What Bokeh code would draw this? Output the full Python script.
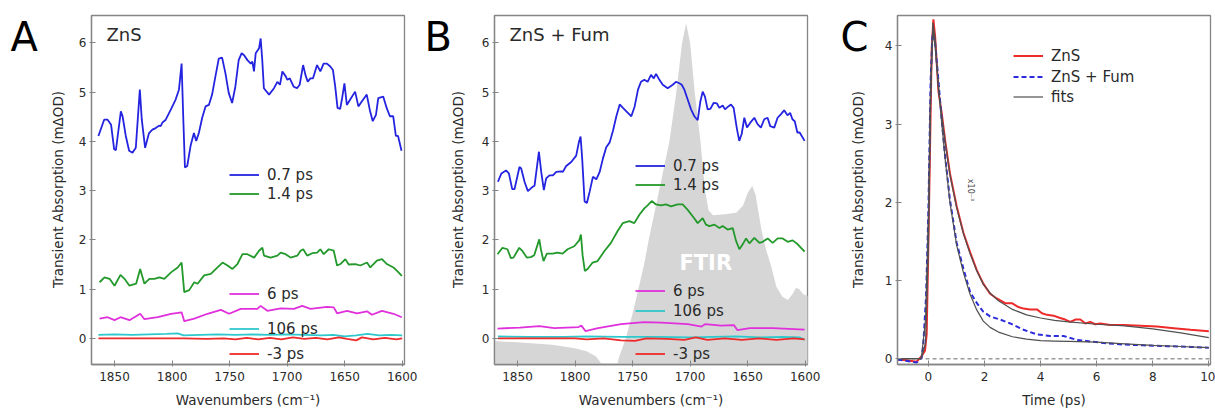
import math
from bokeh.plotting import figure
from bokeh.layouts import row
from bokeh.models import Legend, LegendItem, Label, Span, Range1d, FixedTicker
from bokeh.embed import file_html
from bokeh.resources import INLINE

FONT = "DejaVu Sans"
TXT = "#2a2a2a"
FRAME = "#858585"

BLUE = "#2424e0"
GREEN = "#22992a"
MAGENTA = "#e030dc"
CYAN = "#2ec8cc"
RED = "#ee2a2a"
FIT = "#505050"
FTIR_FILL = "#d6d6d6"

DELAY_LABELS = ["0.7 ps", "1.4 ps", "6 ps", "106 ps", "-3 ps"]
WN_TICKS = [1850, 1800, 1750, 1700, 1650, 1600]
TA_TICKS = [0, 1, 2, 3, 4, 5, 6]
TIME_TICKS = [0, 2, 4, 6, 8, 10]
KIN_TICKS = [0, 1, 2, 3, 4]
Y_TITLE = "Transient Absorption (mΔOD)"

# ---- Panel A: ZnS transient spectra, (wavenumber, mOD) ----
A_07PS = [(1864, 4.11), (1859, 4.44), (1856, 4.44), (1853, 4.34), (1850.3, 3.84), (1848.8, 3.82),
          (1844.5, 4.61), (1843, 4.51), (1840.2, 4.11), (1837.3, 3.81), (1834.4, 3.77), (1831.5, 3.87),
          (1828, 5.05), (1826.3, 4.44), (1823.4, 3.87), (1820, 4.17), (1817.1, 4.24), (1814.2, 4.27),
          (1811.3, 4.32), (1809.9, 4.31), (1808.4, 4.38), (1805.5, 4.44), (1801.2, 4.64), (1796.9, 4.85),
          (1794, 5.05), (1791.7, 5.58), (1790.2, 4.44), (1788.8, 3.47), (1786.8, 3.50), (1783.9, 3.91),
          (1781, 4.17), (1779, 4.01), (1776.7, 4.17), (1773.8, 4.48), (1770.9, 4.71), (1768, 4.74),
          (1765.2, 4.95), (1762.3, 5.32), (1759.4, 5.68), (1756.5, 5.70), (1753.6, 5.38), (1750.7, 4.98),
          (1747.8, 4.78), (1745, 5.11), (1742.1, 5.65), (1739.5, 5.79), (1737.4, 5.75), (1734.5, 5.65),
          (1731.6, 5.58), (1730.2, 5.62), (1728.8, 5.42), (1727.3, 5.79), (1724.4, 5.89), (1723, 6.09),
          (1721.6, 5.65), (1720.2, 5.08), (1715.7, 4.95), (1711.4, 5.08), (1708.5, 5.21), (1706.2, 5.15),
          (1704.1, 5.42), (1701.2, 5.32), (1699.8, 5.25), (1697.7, 5.28), (1694.3, 5.11), (1691.4, 5.08),
          (1689.1, 5.15), (1686.1, 5.55), (1684.1, 5.35), (1682.1, 5.21), (1679.8, 5.28), (1677.5, 5.28),
          (1674, 5.55), (1671.1, 5.42), (1668.3, 5.58), (1665.4, 5.58), (1662.5, 5.52), (1660.2, 5.45),
          (1658.2, 5.11), (1656.2, 4.68), (1653.9, 4.66), (1652.4, 4.85), (1650.2, 5.18), (1648.1, 4.74),
          (1645.2, 4.85), (1640.9, 5.01), (1638.1, 4.71), (1635.1, 4.81), (1630.8, 4.95), (1627.9, 4.61),
          (1625.6, 4.41), (1622.8, 4.54), (1620.8, 4.88), (1616.5, 4.91), (1613.5, 4.68), (1610.7, 4.51),
          (1607.8, 4.51), (1605.5, 4.11), (1603.6, 4.11), (1600.6, 3.81)]

A_14PS = [(1863, 1.14), (1858.7, 1.24), (1854.3, 1.21), (1850, 1.07), (1844.8, 1.29), (1841.3, 1.21),
          (1837, 1.07), (1831.2, 1.11), (1827.7, 1.41), (1824, 1.11), (1819.7, 1.21), (1815.4, 1.21),
          (1811, 1.24), (1806.7, 1.21), (1800.9, 1.34), (1795.1, 1.44), (1791.7, 1.54), (1789.4, 0.94),
          (1785.1, 0.98), (1780.7, 1.14), (1777.8, 1.11), (1772.1, 1.28), (1766.3, 1.31), (1760.5, 1.44),
          (1756.1, 1.54), (1751.8, 1.48), (1747.5, 1.41), (1743.2, 1.51), (1738.8, 1.71), (1734.5, 1.71),
          (1728.7, 1.64), (1724.4, 1.78), (1721.5, 1.84), (1720.1, 1.68), (1714.3, 1.64), (1708.5, 1.68),
          (1705.6, 1.74), (1701.3, 1.71), (1697, 1.64), (1691.2, 1.68), (1688.3, 1.78), (1686, 1.81),
          (1682.6, 1.68), (1678.2, 1.73), (1673.9, 1.74), (1671.1, 1.81), (1668.2, 1.71), (1663.8, 1.81),
          (1659.5, 1.78), (1656.6, 1.48), (1653.7, 1.51), (1649.4, 1.61), (1646.5, 1.50), (1640.7, 1.51),
          (1636.4, 1.48), (1630.6, 1.54), (1627.7, 1.44), (1622, 1.58), (1617.6, 1.61), (1613.3, 1.51),
          (1607.6, 1.44), (1603.2, 1.34), (1600.3, 1.27)]

A_6PS = [(1863, 0.40), (1856, 0.43), (1850, 0.37), (1844.8, 0.43), (1837, 0.37), (1827.7, 0.50),
         (1824, 0.39), (1812.4, 0.43), (1800.9, 0.50), (1791.7, 0.53), (1789.4, 0.35), (1780.7, 0.40),
         (1769.2, 0.50), (1757.6, 0.58), (1750.4, 0.50), (1740.3, 0.60), (1725.9, 0.60), (1723, 0.66),
         (1717.2, 0.56), (1705.6, 0.61), (1694.1, 0.60), (1686.9, 0.66), (1679.7, 0.60), (1665.3, 0.64),
         (1659.5, 0.63), (1656.6, 0.51), (1648, 0.56), (1639.3, 0.51), (1630.6, 0.55), (1626.3, 0.48),
         (1617.6, 0.56), (1607.6, 0.50), (1600.3, 0.43)]

A_106PS = [(1864, 0.07), (1850, 0.08), (1835, 0.07), (1820, 0.08), (1805, 0.09), (1795, 0.10),
           (1790, 0.06), (1775, 0.07), (1760, 0.08), (1745, 0.07), (1730, 0.08), (1715, 0.07),
           (1700, 0.08), (1685, 0.07), (1670, 0.06), (1660, 0.07), (1650, 0.04), (1640, 0.06),
           (1630, 0.09), (1620, 0.06), (1610, 0.07), (1600, 0.06)]

A_M3PS = [(1864, 0.0), (1845, 0.0), (1825, 0.0), (1805, 0.0), (1790, 0.0), (1770, -0.01),
          (1755, 0.0), (1745, -0.02), (1735, 0.01), (1725, -0.02), (1715, 0.01), (1705, -0.02),
          (1695, 0.02), (1685, -0.01), (1675, 0.01), (1665, -0.02), (1655, 0.02), (1648, -0.01),
          (1640, -0.04), (1635, 0.02), (1625, -0.02), (1615, 0.01), (1605, -0.02), (1600, 0.0)]

# ---- Panel B: ZnS + fumarate transient spectra ----
B_07PS = [(1867, 3.18), (1864, 3.35), (1860, 3.41), (1857.5, 3.35), (1854.6, 3.03), (1852.6, 3.03),
          (1848.3, 3.48), (1846.8, 3.45), (1843.9, 3.18), (1841, 2.99), (1836.7, 3.08), (1835.2, 3.10),
          (1831.4, 3.79), (1829.4, 3.38), (1827.1, 3.01), (1825.1, 3.25), (1822.2, 3.31), (1819.3, 3.31),
          (1816.3, 3.38), (1812, 3.39), (1810.6, 3.38), (1807.7, 3.50), (1803.3, 3.58), (1799, 3.71),
          (1796.7, 3.98), (1795.2, 4.10), (1793.8, 3.65), (1791.7, 2.78), (1789.7, 2.75), (1787.3, 2.98),
          (1784.5, 3.28), (1781.5, 3.23), (1778.6, 3.38), (1775.8, 3.65), (1772.9, 3.88), (1769.9, 3.98),
          (1767.1, 4.21), (1764.1, 4.51), (1761.2, 4.75), (1758.4, 4.68), (1755.4, 4.61), (1751.1, 4.51),
          (1748.2, 4.71), (1745.3, 5.05), (1742.7, 5.21), (1739.8, 5.25), (1736.9, 5.21), (1734, 5.35),
          (1731.6, 5.28), (1729.6, 5.37), (1726.7, 5.25), (1723.8, 5.15), (1719.5, 5.08), (1715.1, 5.15),
          (1712.3, 5.21), (1709.4, 5.18), (1707.3, 5.15), (1705, 5.05), (1702.1, 4.85), (1699.2, 4.65),
          (1696.3, 4.51), (1693.4, 4.43), (1691.1, 4.81), (1689.1, 5.01), (1687.1, 4.91), (1684.8, 4.65),
          (1682.4, 4.66), (1679.6, 4.78), (1676.7, 4.77), (1674.6, 4.68), (1671.7, 4.73), (1669.7, 4.65),
          (1666.8, 4.71), (1664.5, 4.75), (1662.2, 4.68), (1659.3, 4.25), (1657.3, 4.01), (1655.2, 4.15),
          (1652.9, 4.48), (1650.6, 4.28), (1647.7, 4.38), (1644.2, 4.48), (1641.4, 4.35), (1638.5, 4.28),
          (1635.6, 4.45), (1632.7, 4.48), (1630.4, 4.31), (1626.9, 4.28), (1624, 4.48), (1621.2, 4.55),
          (1618.3, 4.63), (1615.4, 4.53), (1613.1, 4.58), (1611.1, 4.45), (1609.1, 4.41), (1606.8, 4.18),
          (1604.8, 4.18), (1600.5, 4.01)]

B_14PS = [(1867.4, 1.71), (1863.1, 1.84), (1858.7, 1.81), (1855.8, 1.63), (1853.5, 1.64), (1848.5, 1.84),
          (1845.6, 1.77), (1841.9, 1.64), (1838.4, 1.65), (1835.5, 1.69), (1831.1, 2.01), (1829.7, 1.81),
          (1827.4, 1.57), (1824.5, 1.72), (1819.5, 1.72), (1815.2, 1.74), (1810.8, 1.72), (1806.5, 1.81),
          (1800.7, 1.87), (1796.4, 1.99), (1794.9, 2.11), (1793.4, 1.68), (1791.5, 1.37), (1789.1, 1.41),
          (1784.7, 1.54), (1780.4, 1.57), (1774.6, 1.77), (1768.8, 1.94), (1763, 2.18), (1758.6, 2.34),
          (1752.8, 2.38), (1748.5, 2.34), (1744.1, 2.51), (1739.8, 2.64), (1736.9, 2.70), (1733.4, 2.79),
          (1729.6, 2.72), (1725.3, 2.70), (1721, 2.72), (1716.6, 2.68), (1710.8, 2.72), (1706.5, 2.72),
          (1702.1, 2.61), (1697.8, 2.48), (1693.4, 2.34), (1689.1, 2.44), (1686.2, 2.31), (1683.3, 2.28),
          (1678.9, 2.31), (1674.6, 2.24), (1671.7, 2.28), (1667.4, 2.21), (1663, 2.24), (1660.1, 1.98),
          (1657.2, 1.81), (1654.3, 1.91), (1651.4, 2.03), (1648.5, 1.93), (1644.2, 2.04), (1639.8, 1.94),
          (1636.9, 1.96), (1632.6, 2.03), (1628.3, 1.94), (1623.9, 2.03), (1619.6, 2.03), (1615.2, 1.96),
          (1610.9, 1.99), (1606.5, 1.91), (1600.5, 1.76)]

B_6PS = [(1867.4, 0.20), (1848, 0.22), (1831, 0.25), (1818, 0.21), (1797, 0.23), (1794.5, 0.26),
         (1791, 0.15), (1780, 0.21), (1760, 0.29), (1740, 0.33), (1725, 0.32), (1702, 0.29),
         (1690, 0.24), (1687, 0.29), (1673, 0.26), (1662, 0.27), (1659, 0.17), (1648, 0.21),
         (1628, 0.21), (1600.5, 0.18)]

B_106PS = [(1867, 0.04), (1840, 0.03), (1810, 0.03), (1790, 0.04), (1760, 0.03), (1730, 0.03),
           (1700, 0.02), (1680, 0.03), (1660, 0.04), (1640, 0.02), (1620, 0.03), (1605, 0.02),
           (1600.5, -0.03)]

B_M3PS = [(1867, 0.0), (1840, 0.0), (1800, 0.0), (1790, -0.02), (1775, 0.0), (1760, -0.04),
          (1748, -0.05), (1738, 0.0), (1720, -0.01), (1705, -0.03), (1695, 0.02), (1685, -0.03),
          (1670, 0.0), (1655, -0.03), (1640, 0.0), (1625, -0.03), (1610, 0.0), (1600.5, -0.02)]

# Ground-state FTIR of the fumarate sample (arbitrary scale), shaded behind panel B
FTIR = [(1873, -0.05), (1850, -0.08), (1820, -0.13), (1800, -0.2), (1790, -0.26), (1782, -0.36),
        (1778, -0.48), (1775, -0.7), (1765, -0.7), (1762, -0.4), (1759, -0.2), (1756, 0.0),
        (1750, 0.5), (1745, 1.0), (1740, 1.5), (1736, 2.0), (1727, 3.0), (1718, 4.0), (1712, 5.0),
        (1707, 6.0), (1703.5, 6.4), (1700, 6.0), (1696, 5.0), (1691, 4.0), (1687, 3.0), (1684, 2.6),
        (1680, 2.5), (1670, 2.52), (1660, 2.55), (1654, 2.7), (1650, 2.95), (1646, 3.1), (1643, 2.9),
        (1638, 2.2), (1634, 1.8), (1630, 1.5), (1625, 1.05), (1620, 0.85), (1615, 0.78), (1611, 0.9),
        (1608, 1.03), (1605, 1.0), (1602, 0.9), (1597, 0.85)]
FTIR_FLOOR = -1.0

# ---- Panel C: kinetics (ps, mOD) ----
T_ZNS = [-1.1, -0.77, -0.42, -0.24, -0.12, -0.06, 0.0, 0.06, 0.12, 0.18, 0.24, 0.36, 0.48, 0.6,
         0.77, 1.01, 1.25, 1.49, 1.73, 1.96, 2.2, 2.44, 2.74, 2.98, 3.21, 3.39, 3.63, 3.87, 4.05,
         4.23, 4.46, 4.7, 4.88, 5.06, 5.24, 5.42, 5.6, 5.77, 5.95, 6.13, 6.49, 6.96, 7.56, 8.15,
         8.75, 9.35, 10.0]
K_ZNS = [-0.01, -0.02, -0.04, 0.03, 0.10, 0.31, 1.44, 2.70, 3.97, 4.34, 4.13, 3.42, 3.13, 2.79,
         2.37, 1.95, 1.61, 1.36, 1.13, 0.96, 0.83, 0.77, 0.71, 0.71, 0.66, 0.64, 0.63, 0.63, 0.58,
         0.56, 0.55, 0.52, 0.50, 0.47, 0.50, 0.50, 0.45, 0.47, 0.44, 0.45, 0.43, 0.43, 0.42, 0.41,
         0.39, 0.37, 0.35]

T_FUM = [-1.1, -0.42, -0.24, -0.18, -0.08, 0.0, 0.08, 0.15, 0.24, 0.36, 0.48, 0.6, 0.77, 1.01,
         1.25, 1.49, 1.73, 1.96, 2.2, 2.56, 2.92, 3.39, 3.87, 4.35, 4.82, 5.3, 5.77, 6.25, 6.96,
         7.68, 8.51, 9.35, 10.0]
K_FUM = [-0.01, -0.05, 0.01, 0.18, 0.81, 1.86, 3.55, 4.16, 4.05, 3.55, 3.04, 2.58, 2.03, 1.48,
         1.15, 0.85, 0.71, 0.60, 0.54, 0.50, 0.45, 0.37, 0.31, 0.29, 0.29, 0.24, 0.22, 0.20, 0.18,
         0.17, 0.16, 0.15, 0.14]

T_FIT = [-1.1, -0.25, -0.1, 0.0, 0.08, 0.16, 0.24, 0.36, 0.48, 0.6, 0.77, 1.01, 1.25, 1.49, 1.73,
         1.96, 2.2, 2.5, 3.0, 3.5, 4.0, 4.5, 5.0, 6.0, 7.0, 8.0, 9.0, 10.0]
FIT_ZNS = [0.0, 0.0, 0.2, 1.4, 3.3, 4.3, 4.1, 3.45, 3.1, 2.77, 2.35, 1.93, 1.6, 1.34, 1.12, 0.95,
           0.84, 0.74, 0.63, 0.56, 0.52, 0.49, 0.47, 0.44, 0.42, 0.38, 0.33, 0.27]
FIT_FUM = [0.0, 0.0, 0.5, 1.8, 3.5, 4.2, 4.0, 3.5, 3.0, 2.55, 2.0, 1.45, 1.1, 0.82, 0.62, 0.48,
           0.40, 0.34, 0.28, 0.25, 0.23, 0.225, 0.22, 0.21, 0.19, 0.17, 0.155, 0.14]


def xs(pairs):
    return [p[0] for p in pairs]


def ys(pairs):
    return [p[1] for p in pairs]


def panel(x_range, y_range, xticks, yticks, xlabel, width, right):
    p = figure(width=width, height=410, x_range=x_range, y_range=y_range,
               output_backend="svg", toolbar_location=None,
               min_border_left=19, min_border_right=right,
               min_border_top=15, min_border_bottom=42)
    p.background_fill_color = "white"
    p.border_fill_color = "white"
    p.outline_line_color = FRAME
    p.outline_line_width = 1.3
    p.xgrid.visible = False
    p.ygrid.visible = False
    for ax, ticks in ((p.xaxis, xticks), (p.yaxis, yticks)):
        ax.ticker = FixedTicker(ticks=ticks)
        ax.minor_tick_line_color = None
        ax.axis_line_color = FRAME
        ax.axis_line_width = 1.3
        ax.major_tick_line_color = FRAME
        ax.major_tick_in = 4
        ax.major_tick_out = 2
        ax.major_label_text_font = FONT
        ax.major_label_text_font_size = "12px"
        ax.major_label_text_color = TXT
        ax.axis_label_text_font = FONT
        ax.axis_label_text_font_size = "13.5px"
        ax.axis_label_text_font_style = "normal"
        ax.axis_label_text_color = TXT
    p.xaxis.major_label_standoff = 5
    p.yaxis.major_label_standoff = 3
    p.xaxis.axis_label = xlabel
    p.xaxis.axis_label_standoff = 8
    return p


def side_strip(letter, width, letter_x, title_x):
    # blank strip left of a panel: panel letter on top, y-axis title beside the ticks
    s = figure(width=width, height=410, x_range=(0, 1), y_range=(0, 1),
               output_backend="svg", toolbar_location=None,
               x_axis_type=None, y_axis_type=None,
               min_border_left=0, min_border_right=0,
               min_border_top=15, min_border_bottom=42)
    s.outline_line_color = None
    s.xgrid.visible = False
    s.ygrid.visible = False
    s.add_layout(Label(x=letter_x, y=328, x_units="screen", y_units="screen", text=letter,
                       text_font=FONT, text_font_size="40px", text_color="black",
                       text_baseline="alphabetic"))
    s.add_layout(Label(x=title_x, y=175, x_units="screen", y_units="screen", text=Y_TITLE,
                       angle=math.pi / 2, text_font=FONT, text_font_size="13.5px",
                       text_color=TXT, text_align="center", text_baseline="middle"))
    return s


def tag(p, text):
    p.add_layout(Label(x=15, y=330, x_units="screen", y_units="screen", text=text,
                       text_font=FONT, text_font_size="18px", text_color=TXT,
                       text_baseline="alphabetic"))


def legend_entry(p, item, bottom, left, row_h=19):
    p.add_layout(Legend(items=[item], location=(left, bottom), orientation="vertical",
                        glyph_width=30, glyph_height=row_h, label_height=row_h,
                        label_standoff=8, padding=0, margin=0, spacing=0,
                        border_line_alpha=0, background_fill_alpha=0,
                        label_text_font=FONT, label_text_font_size="15px",
                        label_text_color=TXT))


def spectra(p, series):
    rs = []
    for pairs, color in series:
        rs.append(p.line(xs(pairs), ys(pairs), line_color=color, line_width=1.8))
    return rs


WN_RANGE = (1870, 1598)
TA_RANGE = (-0.53, 6.556)

# Panel A
pa = panel(Range1d(*WN_RANGE), Range1d(*TA_RANGE), WN_TICKS, TA_TICKS,
           "Wavenumbers (cm⁻¹)", 348, 16)
ra = spectra(pa, [(A_07PS, BLUE), (A_14PS, GREEN), (A_6PS, MAGENTA),
                  (A_106PS, CYAN), (A_M3PS, RED)])
for lbl, r, bottom in zip(DELAY_LABELS, ra, [180, 161, 61, 26, 1]):
    legend_entry(pa, LegendItem(label=lbl, renderers=[r]), bottom, 138)
tag(pa, "ZnS")

# Panel B
pb = panel(Range1d(*WN_RANGE), Range1d(*TA_RANGE), WN_TICKS, TA_TICKS,
           "Wavenumbers (cm⁻¹)", 350, 18)
pb.varea(x=xs(FTIR), y1=[FTIR_FLOOR] * len(FTIR), y2=ys(FTIR), fill_color=FTIR_FILL)
rb = spectra(pb, [(B_07PS, BLUE), (B_14PS, GREEN), (B_6PS, MAGENTA),
                  (B_106PS, CYAN), (B_M3PS, RED)])
for lbl, r, bottom in zip(DELAY_LABELS, rb, [189, 170, 64, 44, 1]):
    legend_entry(pb, LegendItem(label=lbl, renderers=[r]), bottom, 141)
pb.add_layout(Label(x=1686.4, y=1.54, text="FTIR", text_font=FONT, text_font_size="21px",
                    text_font_style="bold", text_color="white", text_align="center",
                    text_baseline="alphabetic"))
tag(pb, "ZnS + Fum")

# Panel C
pc = panel(Range1d(-1.1, 10.06), Range1d(-0.075, 4.39), TIME_TICKS, KIN_TICKS,
           "Time (ps)", 337, 5)
pc.add_layout(Span(location=0, dimension="width", line_color="#9a9a9a", line_width=1.5,
                   line_dash="4 3", level="underlay"))
r_zns = pc.line(T_ZNS, K_ZNS, line_color=RED, line_width=2)
r_fum = pc.line(T_FUM, K_FUM, line_color="#2b2bdc", line_width=2, line_dash="5 3")
r_fit = pc.line(T_FIT, FIT_ZNS, line_color=FIT, line_width=1.2)
pc.line(T_FIT, FIT_FUM, line_color=FIT, line_width=1.2)
for lbl, r, bottom in zip(["ZnS", "ZnS + Fum", "fits"], [r_zns, r_fum, r_fit], [299, 278, 258]):
    legend_entry(pc, LegendItem(label=lbl, renderers=[r]), bottom, 116)
pc.add_layout(Label(x=1.49, y=2.30, text="x10⁻³", angle=-math.pi / 2, text_font=FONT,
                    text_font_size="8px", text_color="#444444", text_align="left",
                    text_baseline="middle"))

layout = row(side_strip("A", 72, 10, 57), pa,
             side_strip("B", 55, 4, 37), pb,
             side_strip("C", 53, 15, 32), pc)
open("out.html", "w").write(file_html(layout, INLINE))
